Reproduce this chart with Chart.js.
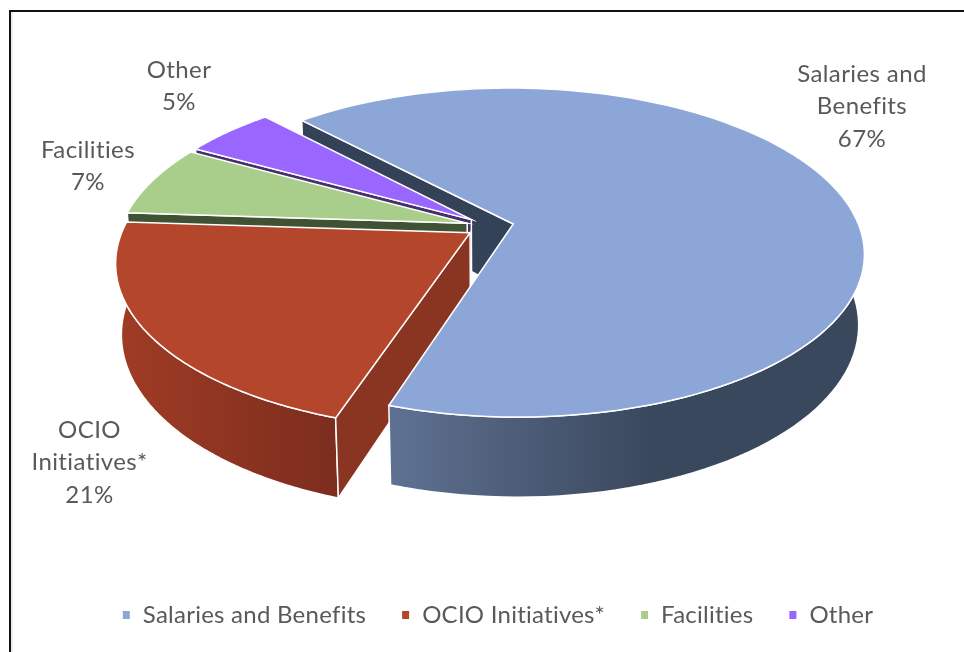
<!DOCTYPE html>
<html>
<head>
<meta charset="utf-8">
<title>Budget by category</title>
<script src="https://cdn.jsdelivr.net/npm/chart.js"></script>
<style>
  html, body { margin: 0; padding: 0; background: #fff; }
  #wrap { position: relative; width: 964px; height: 652px; overflow: hidden; }
  #frame { position: absolute; left: 9px; top: 10px; width: 1000px; height: 700px;
           border-top: 2px solid #111; border-left: 2px solid #111; box-shadow: inset 2px 0 0 #ececec; }
  canvas { position: absolute; left: 0; top: 0; }
</style>
</head>
<body>
<div id="wrap">
  <div id="frame"></div>
  <canvas id="myChart" width="964" height="652"></canvas>
</div>
<script>
var categories = ['Salaries and Benefits', 'OCIO Initiatives*', 'Facilities', 'Other'];
var shares = [67, 21, 7, 5];
var labelLines = [['Salaries and', 'Benefits'], ['OCIO', 'Initiatives*'], ['Facilities'], ['Other']];

var topColors = ['#8ca6d8', '#b4462c', '#a9ce8c', '#9966ff'];
var cutColors = ['#344258', '#8a3522', '#3f5233', '#48306f'];
var sideStops = [['#5f7192', '#3a485d'], ['#9e3b25', '#7c2d1e'], ['#5f7a4a', '#3f5233'], ['#5c3f99', '#48306f']];
var sideRange = [[393, 650], [125, 338], [129, 200], [200, 270]];
var labelSpots = [[862, 74], [89.5, 430], [88, 150], [179, 70]];

// camera for the tilted disc
var view = { cx: 490, cy: 226.4, rx: 346, ry: 160.4, tilt: 0.1737, sink: 0.015, depth: 70.5, explode: 0.069 };

function project(u, v, h) {
  var w = 1 + view.tilt * v + view.sink * h;
  return [view.cx + view.rx * u / w, view.cy + (-view.ry * v + view.depth * h) / w];
}

function trace(ctx, pts) {
  ctx.beginPath();
  pts.forEach(function (p, i) { if (i) ctx.lineTo(p[0], p[1]); else ctx.moveTo(p[0], p[1]); });
  ctx.closePath();
}

function paint(ctx, pts, fill) {
  trace(ctx, pts);
  ctx.fillStyle = fill;
  ctx.fill();
  ctx.strokeStyle = '#fff';
  ctx.lineWidth = 1.5;
  ctx.stroke();
}

var pie3d = {
  id: 'pie3d',
  // a little tracking also switches off the Lato ti/fi ligatures in the text
  beforeUpdate: function (chart) {
    chart.ctx.letterSpacing = '0.25px';
  },
  beforeDatasetsDraw: function (chart) {
    var ctx = chart.ctx;
    var arcs = chart.getDatasetMeta(0).data;

    var slices = arcs.map(function (arc) {
      var mid = (arc.startAngle + arc.endAngle) / 2;
      var ou = view.explode * Math.cos(mid), ov = -view.explode * Math.sin(mid);
      var rim = [];
      for (var i = 0; i <= 120; i++) {
        var a = arc.startAngle + (arc.endAngle - arc.startAngle) * i / 120;
        rim.push([ou + Math.cos(a), ov - Math.sin(a)]);
      }
      return { ou: ou, ov: ov, rim: rim };
    });

    function cutWall(i) {
      var s = slices[i], e = s.rim[0];
      paint(ctx, [project(s.ou, s.ov, 0), project(e[0], e[1], 0), project(e[0], e[1], 1), project(s.ou, s.ov, 1)], cutColors[i]);
    }
    function outerWall(i) {
      var s = slices[i];
      // only the part of the rim that faces the viewer
      var front = s.rim.filter(function (r) { return r[1] - s.ov < 0.2; });
      if (front.length < 2) return;
      var g = ctx.createLinearGradient(sideRange[i][0], 0, sideRange[i][1], 0);
      g.addColorStop(0, sideStops[i][0]);
      g.addColorStop(1, sideStops[i][1]);
      var pts = front.map(function (r) { return project(r[0], r[1], 0); });
      front.slice().reverse().forEach(function (r) { pts.push(project(r[0], r[1], 1)); });
      paint(ctx, pts, g);
    }
    function top(i) {
      var s = slices[i];
      var pts = [project(s.ou, s.ov, 0)];
      s.rim.forEach(function (r) { pts.push(project(r[0], r[1], 0)); });
      paint(ctx, pts, topColors[i]);
    }

    cutWall(0);
    [3, 2, 1].forEach(function (i) {
      outerWall(i);
      cutWall(i);
      top(i);
    });
    outerWall(0);
    top(0);

    // data labels
    ctx.save();
    ctx.font = '24px Lato';
    ctx.letterSpacing = '0.4px';
    ctx.fillStyle = '#595959';
    ctx.textAlign = 'center';
    ctx.textBaseline = 'middle';
    categories.forEach(function (name, i) {
      var lines = labelLines[i].concat([shares[i] + '%']);
      lines.forEach(function (line, n) {
        ctx.fillText(line, labelSpots[i][0], labelSpots[i][1] + n * 32.5);
      });
    });
    ctx.restore();
    return false;
  }
};

var ctx = document.getElementById('myChart').getContext('2d');
var chart = new Chart(ctx, {
  type: 'pie',
  data: {
    labels: categories,
    datasets: [{ data: shares, backgroundColor: topColors }]
  },
  plugins: [pie3d],
  options: {
    responsive: false,
    animation: false,
    rotation: -43,
    layout: { padding: { left: 31, bottom: 15 } },
    plugins: {
      tooltip: { enabled: false },
      legend: {
        position: 'bottom',
        labels: {
          boxWidth: 9,
          boxHeight: 10,
          padding: 35,
          color: '#595959',
          font: { family: 'Lato', size: 24 }
        }
      }
    }
  }
});
</script>
</body>
</html>
